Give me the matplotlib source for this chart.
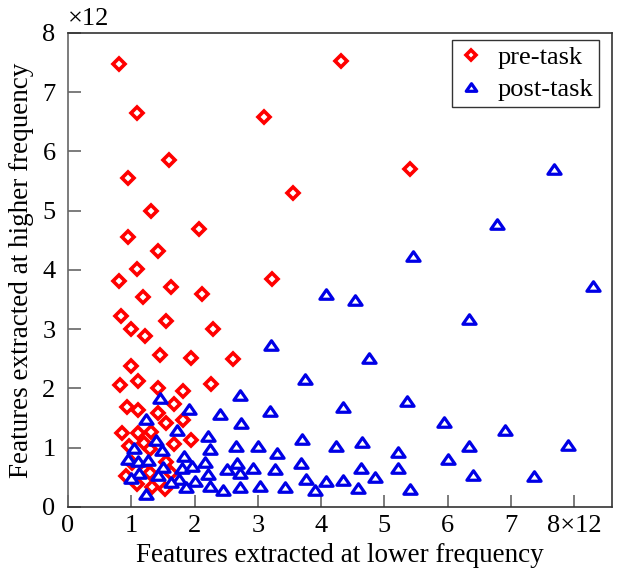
import matplotlib
matplotlib.use('Agg')
import matplotlib.pyplot as plt
from matplotlib.path import Path

plt.rcParams['font.family'] = ['Liberation Serif', 'DejaVu Serif']

# feature counts (in units of 12)
pre_x = [0.80, 1.09, 3.10, 4.32, 1.59, 0.95, 3.55, 1.31, 2.07, 0.95, 1.42, 5.40,
         1.09, 0.80, 1.62, 2.11, 1.19, 3.23, 0.84, 1.55, 0.99, 2.29, 1.21, 1.45,
         1.94, 2.61, 0.99, 0.82, 1.10, 2.26, 1.42, 1.81, 1.68, 0.93, 1.11, 1.42,
         1.81, 1.55, 0.85, 1.10, 1.31, 1.20, 0.97, 1.29, 1.67, 1.94, 1.01, 1.55,
         1.22, 1.29, 1.63, 0.91, 1.09, 1.33, 1.54]
pre_y = [7.47, 6.65, 6.58, 7.53, 5.85, 5.55, 5.30, 5.00, 4.69, 4.56, 4.32, 5.70,
         4.01, 3.81, 3.71, 3.59, 3.54, 3.84, 3.22, 3.14, 3.00, 3.00, 2.88, 2.57,
         2.52, 2.50, 2.38, 2.05, 2.12, 2.07, 2.00, 1.96, 1.73, 1.69, 1.64, 1.58,
         1.46, 1.42, 1.24, 1.25, 1.27, 1.07, 1.03, 0.97, 1.06, 1.13, 0.74, 0.76,
         0.62, 0.58, 0.58, 0.52, 0.38, 0.33, 0.31]

post_x = [7.68, 6.78, 5.46, 4.08, 3.21, 3.75, 2.72, 1.45, 1.92, 2.41, 3.20, 1.23,
          2.74, 1.72, 2.21, 1.39, 3.70, 1.05, 1.49, 2.25, 2.65, 3.01, 3.31, 4.24,
          0.95, 1.11, 1.27, 1.84, 2.16, 2.67, 3.69, 1.80, 1.96, 1.50, 2.51, 2.72,
          2.92, 3.27, 1.12, 2.21, 1.00, 1.42, 1.75, 1.63, 2.01, 3.76, 4.08, 1.86,
          2.24, 2.72, 3.04, 3.43, 2.45, 3.91, 1.24,
          8.30, 4.53, 6.33, 4.75, 4.35, 5.36, 5.94, 6.90, 4.64, 6.33, 7.91, 5.21,
          6.01, 4.63, 5.21, 4.35, 4.85, 6.40, 7.36, 4.58, 5.41]
post_y = [5.70, 4.77, 4.24, 3.59, 2.73, 2.15, 1.88, 1.84, 1.65, 1.56, 1.61, 1.48,
          1.41, 1.30, 1.20, 1.13, 1.15, 1.00, 0.96, 0.97, 1.03, 1.03, 0.91, 1.02,
          0.81, 0.78, 0.79, 0.86, 0.75, 0.74, 0.74, 0.65, 0.69, 0.67, 0.64, 0.57,
          0.65, 0.64, 0.58, 0.55, 0.48, 0.53, 0.47, 0.42, 0.44, 0.47, 0.43, 0.34,
          0.35, 0.34, 0.36, 0.33, 0.29, 0.29, 0.21,
          3.73, 3.49, 3.17, 2.52, 1.68, 1.78, 1.44, 1.30, 1.10, 1.03, 1.04, 0.93,
          0.80, 0.65, 0.65, 0.46, 0.51, 0.53, 0.52, 0.32, 0.30]

ticks = [0, 1, 2, 3, 4, 5, 6, 7, 8]
xtick_labels = ['0', '1', '2', '3', '4', '5', '6', '7', '8×12']
ytick_labels = ['0', '1', '2', '3', '4', '5', '6', '7', '8']

FS = 19

# a slightly flattened up-triangle
flat_tri = Path([(-1, -0.72), (1, -0.72), (0, 0.72), (-1, -0.72)],
                [Path.MOVETO, Path.LINETO, Path.LINETO, Path.CLOSEPOLY])

fig = plt.figure(figsize=(6.24, 5.76), dpi=100)
ax = fig.add_axes([0.109, 0.120, 0.872, 0.823])

ax.plot(pre_x, pre_y, linestyle='none', marker='D', markersize=6.4,
        markerfacecolor='white', markeredgecolor='#ff0000', markeredgewidth=2.6,
        label='pre-task')
ax.plot(post_x, post_y, linestyle='none', marker=flat_tri, markersize=9.5,
        markerfacecolor='white', markeredgecolor='#0000e6', markeredgewidth=2.3,
        label='post-task')

ax.set_xlim(0, 8.6)
ax.set_ylim(0, 8)
ax.set_xticks(ticks)
ax.set_xticklabels(xtick_labels)
ax.set_yticks(ticks)
ax.set_yticklabels(ytick_labels)
ax.tick_params(direction='in', length=9, width=1.2, color='#666666',
               labelsize=FS, top=False, right=False)
ax.tick_params(axis='x', pad=6)
ax.tick_params(axis='y', pad=9)
for s in ax.spines.values():
    s.set_color('#333333')
    s.set_linewidth(1.2)
ax.spines['left'].set_color('#666666')

ax.text(0, 1.005, '×12', transform=ax.transAxes, fontsize=FS,
        ha='left', va='bottom')

ax.set_xlabel('Features extracted at lower frequency', fontsize=19.5, labelpad=4)
ax.set_ylabel('Features extracted at higher frequency', fontsize=19.5, labelpad=6)

leg = ax.legend(loc='upper right', fontsize=FS, frameon=True, fancybox=False,
                edgecolor='black', handletextpad=0.5, borderpad=0.22,
                labelspacing=0.32, handlelength=1.0, markerscale=0.8,
                borderaxespad=0, bbox_to_anchor=(0.975, 0.985))
leg.get_frame().set_linewidth(1.0)

plt.savefig('out.png', dpi=100, facecolor='white')
plt.close()
